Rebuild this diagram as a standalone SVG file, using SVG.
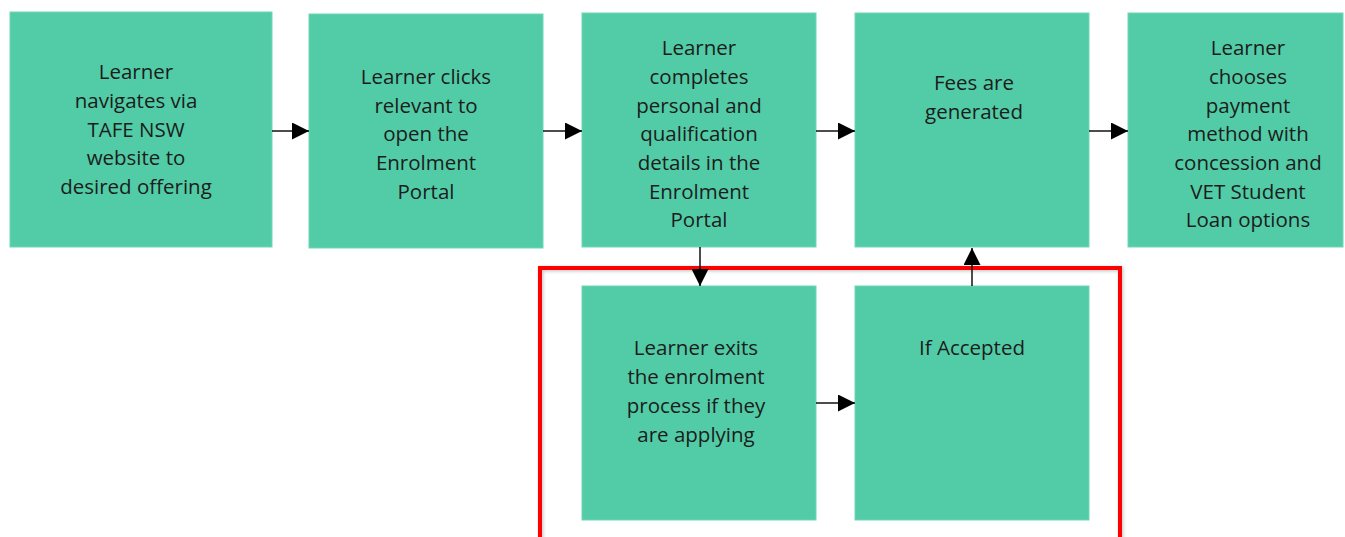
<svg xmlns="http://www.w3.org/2000/svg" width="1345" height="537" viewBox="0 0 1345 537">
<defs>
<style>
.box{fill:#51cca6;stroke:#6fd6b6;stroke-width:1}
.t{font-family:"Open Sans","Noto Sans",sans-serif;font-size:20.5px;fill:#1c1c1c;text-anchor:middle}
.c{stroke:#111;stroke-width:1.5;fill:none}
</style>
<marker id="ah" viewBox="0 0 10 10" refX="10" refY="5" markerWidth="17" markerHeight="17" markerUnits="userSpaceOnUse" orient="auto">
<path d="M0,0 L10,5 L0,10 Z" fill="#000"/>
</marker>
<filter id="sh" x="-5%" y="-5%" width="110%" height="110%"><feGaussianBlur stdDeviation="1.5"/></filter>
</defs>
<rect width="1345" height="537" fill="#fff"/>
<g id="n1"><rect class="box" x="10" y="12" width="262" height="235"/>
<text class="t"><tspan x="136" y="79">Learner</tspan><tspan x="136" y="108">navigates via</tspan><tspan x="136" y="137">TAFE NSW</tspan><tspan x="136" y="165">website to</tspan><tspan x="136" y="194">desired offering</tspan></text></g>
<g id="n2"><rect class="box" x="309" y="14" width="234" height="234"/>
<text class="t"><tspan x="426" y="84">Learner clicks</tspan><tspan x="426" y="113">relevant to</tspan><tspan x="426" y="141">open the</tspan><tspan x="426" y="170">Enrolment</tspan><tspan x="426" y="199">Portal</tspan></text></g>
<g id="n3"><rect class="box" x="582" y="13" width="234" height="234"/>
<text class="t"><tspan x="699" y="55">Learner</tspan><tspan x="699" y="84">completes</tspan><tspan x="699" y="113">personal and</tspan><tspan x="699" y="141">qualification</tspan><tspan x="699" y="170">details in the</tspan><tspan x="699" y="199">Enrolment</tspan><tspan x="699" y="227">Portal</tspan></text></g>
<g id="n4"><rect class="box" x="855" y="13" width="234" height="234"/>
<text class="t"><tspan x="974" y="90">Fees are</tspan><tspan x="974" y="119">generated</tspan></text></g>
<g id="n5"><rect class="box" x="1128" y="13" width="215" height="234"/>
<text class="t"><tspan x="1248" y="55">Learner</tspan><tspan x="1248" y="84">chooses</tspan><tspan x="1248" y="113">payment</tspan><tspan x="1248" y="141">method with</tspan><tspan x="1248" y="170">concession and</tspan><tspan x="1248" y="199">VET Student</tspan><tspan x="1248" y="227">Loan options</tspan></text></g>
<g id="n6"><rect class="box" x="582" y="286" width="234" height="234"/>
<text class="t"><tspan x="696" y="355">Learner exits</tspan><tspan x="696" y="384">the enrolment</tspan><tspan x="696" y="413">process if they</tspan><tspan x="696" y="442">are applying</tspan></text></g>
<g id="n7"><rect class="box" x="855" y="286" width="234" height="234"/>
<text class="t"><tspan x="972" y="355">If Accepted</tspan></text></g>
<g id="highlight">
<rect x="540" y="268" width="580" height="300" fill="none" stroke="#999" stroke-opacity="0.5" stroke-width="5" filter="url(#sh)" transform="translate(1,1)"/>
<rect x="540" y="268" width="580" height="300" fill="none" stroke="#ff0000" stroke-width="4"/>
</g>
<g id="connectors">
<line class="c" x1="272" y1="131" x2="309" y2="131" marker-end="url(#ah)"/>
<line class="c" x1="543" y1="131" x2="582" y2="131" marker-end="url(#ah)"/>
<line class="c" x1="816" y1="131" x2="855" y2="131" marker-end="url(#ah)"/>
<line class="c" x1="1089" y1="131" x2="1128" y2="131" marker-end="url(#ah)"/>
<line class="c" x1="700" y1="247" x2="700" y2="286" marker-end="url(#ah)"/>
<line class="c" x1="972" y1="286" x2="972" y2="248" marker-end="url(#ah)"/>
<line class="c" x1="816" y1="403" x2="855" y2="403" marker-end="url(#ah)"/>
</g>
</svg>
